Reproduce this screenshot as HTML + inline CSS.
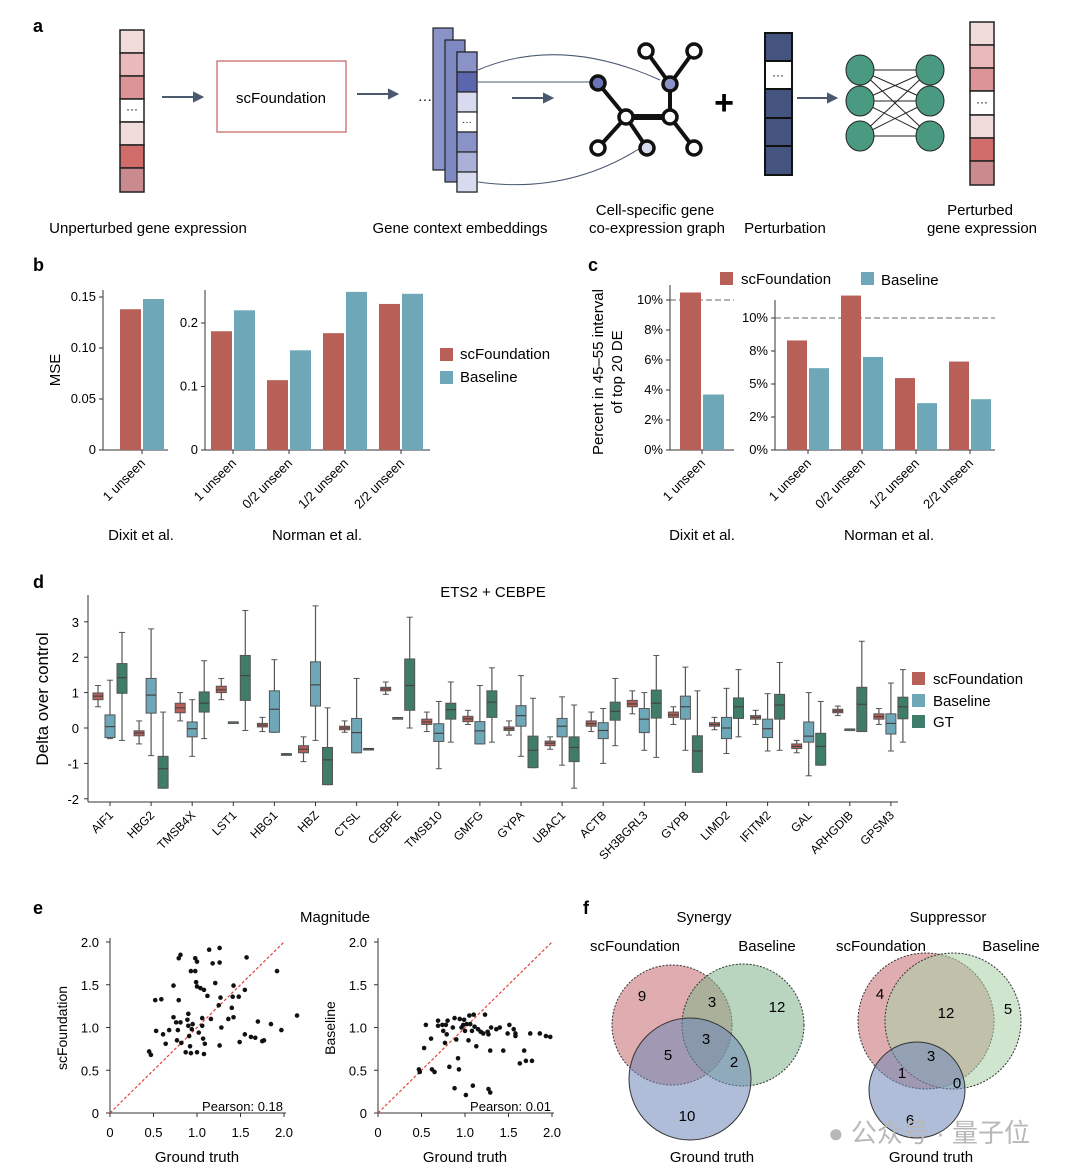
<!DOCTYPE html>
<html><head><meta charset="utf-8"><style>
body{margin:0;background:#fff}
svg{display:block;font-family:"Liberation Sans","Noto Sans CJK SC",sans-serif}
</style></head><body>
<svg id="fig" width="1070" height="1174" viewBox="0 0 1070 1174" xmlns="http://www.w3.org/2000/svg">
<g>
<text x="33" y="32" font-size="18" font-weight="bold">a</text>
<g stroke="#222" stroke-width="1.5">
<rect x="120" y="30" width="24" height="23" fill="#f1dcdc"/><rect x="120" y="53" width="24" height="23" fill="#e9b9bb"/><rect x="120" y="76" width="24" height="23" fill="#dd9497"/><rect x="120" y="99" width="24" height="23" fill="#fff"/><rect x="120" y="122" width="24" height="23" fill="#f1dcdc"/><rect x="120" y="145" width="24" height="23" fill="#d06d6b"/><rect x="120" y="168" width="24" height="24" fill="#c98b8e"/>
</g>
<text x="132" y="113" font-size="12" text-anchor="middle">···</text>
<g stroke="#4a5870" stroke-width="2" fill="#4a5870"><line x1="162" y1="97" x2="196" y2="97"/><polygon points="202,97 194,93 194,101"/><line x1="357" y1="94" x2="391" y2="94"/><polygon points="397,94 389,90 389,98"/><line x1="512" y1="98" x2="546" y2="98"/><polygon points="552,98 544,94 544,102"/><line x1="797" y1="98" x2="830" y2="98"/><polygon points="836,98 828,94 828,102"/></g>
<rect x="217" y="61" width="129" height="71" fill="none" stroke="#c96a6a" stroke-width="1.3"/>
<text x="281" y="103" font-size="15" text-anchor="middle">scFoundation</text>
<text x="418" y="104" font-size="14">···</text>
<g stroke="#222" stroke-width="1.2">
<rect x="433" y="28" width="20" height="142" fill="#8a93c8"/><rect x="445" y="40" width="20" height="142" fill="#7e89c2"/><rect x="457" y="52" width="20" height="140" fill="#c5c9e6"/>
<rect x="457" y="52" width="20" height="20" fill="#8a93c8"/><rect x="457" y="72" width="20" height="20" fill="#5b66ac"/><rect x="457" y="92" width="20" height="20" fill="#d8dbef"/><rect x="457" y="112" width="20" height="20" fill="#fff"/><rect x="457" y="132" width="20" height="20" fill="#8a93c8"/><rect x="457" y="152" width="20" height="20" fill="#aab0d8"/><rect x="457" y="172" width="20" height="20" fill="#d8dbef"/>
</g>
<text x="467" y="125" font-size="10" text-anchor="middle">···</text>
<path d="M478,70 Q560,35 660,80" fill="none" stroke="#4a5870"/><path d="M478,82 L592,82" fill="none" stroke="#4a5870"/><path d="M478,182 Q570,195 645,145" fill="none" stroke="#4a5870"/>
<g stroke="#111" stroke-width="4">
<line x1="598" y1="83" x2="626" y2="117"/><line x1="626" y1="117" x2="670" y2="117" stroke-width="6"/><line x1="626" y1="117" x2="598" y2="148"/><line x1="626" y1="117" x2="647" y2="148"/><line x1="670" y1="117" x2="670" y2="84"/><line x1="670" y1="84" x2="646" y2="51"/><line x1="670" y1="84" x2="694" y2="51"/><line x1="670" y1="117" x2="694" y2="148"/>
<g stroke-width="3.5"><circle cx="598" cy="83" r="7" fill="#6b74b8"/><circle cx="626" cy="117" r="7" fill="#fff"/><circle cx="670" cy="117" r="7" fill="#fff"/><circle cx="670" cy="84" r="7" fill="#8a93c8"/><circle cx="646" cy="51" r="7" fill="#fff"/><circle cx="694" cy="51" r="7" fill="#fff"/><circle cx="598" cy="148" r="7" fill="#fff"/><circle cx="647" cy="148" r="7" fill="#d8dbef"/><circle cx="694" cy="148" r="7" fill="#fff"/></g>
</g>
<text x="724" y="114" font-size="34" font-weight="bold" text-anchor="middle">+</text>
<g stroke="#111" stroke-width="2">
<rect x="765" y="33" width="27" height="142" fill="#45537f"/><rect x="765" y="61" width="27" height="28" fill="#fff"/>
<line x1="765" y1="118" x2="792" y2="118"/><line x1="765" y1="146" x2="792" y2="146"/></g>
<text x="778" y="79" font-size="12" text-anchor="middle">···</text>
<g stroke="#222" stroke-width="1">
<line x1="860" y1="70" x2="930" y2="70"/><line x1="860" y1="70" x2="930" y2="101"/><line x1="860" y1="70" x2="930" y2="136"/><line x1="860" y1="101" x2="930" y2="70"/><line x1="860" y1="101" x2="930" y2="101"/><line x1="860" y1="101" x2="930" y2="136"/><line x1="860" y1="136" x2="930" y2="70"/><line x1="860" y1="136" x2="930" y2="101"/><line x1="860" y1="136" x2="930" y2="136"/>
<g fill="#4a9a82"><ellipse cx="860" cy="70" rx="14" ry="15"/><ellipse cx="860" cy="101" rx="14" ry="15"/><ellipse cx="860" cy="136" rx="14" ry="15"/><ellipse cx="930" cy="70" rx="14" ry="15"/><ellipse cx="930" cy="101" rx="14" ry="15"/><ellipse cx="930" cy="136" rx="14" ry="15"/></g></g>
<g stroke="#222" stroke-width="1.5">
<rect x="970" y="22" width="24" height="23" fill="#f1dcdc"/><rect x="970" y="45" width="24" height="23" fill="#e9b9bb"/><rect x="970" y="68" width="24" height="23" fill="#dd9497"/><rect x="970" y="91" width="24" height="24" fill="#fff"/><rect x="970" y="115" width="24" height="23" fill="#f1dcdc"/><rect x="970" y="138" width="24" height="23" fill="#d06d6b"/><rect x="970" y="161" width="24" height="24" fill="#c98b8e"/></g>
<text x="982" y="106" font-size="12" text-anchor="middle">···</text>
<g font-size="15" text-anchor="middle">
<text x="148" y="233">Unperturbed gene expression</text><text x="460" y="233">Gene context embeddings</text>
<text x="655" y="215">Cell-specific gene</text><text x="657" y="233">co-expression graph</text>
<text x="785" y="233">Perturbation</text><text x="980" y="215">Perturbed</text><text x="982" y="233">gene expression</text></g>
</g>
<g id="pb"></g>
<g id="pc"></g>
<g id="pd"></g>
<g id="pe"></g>
<g>
<text x="583" y="914" font-size="18" font-weight="bold">f</text>
<g font-size="15" text-anchor="middle"><text x="704" y="922">Synergy</text><text x="948" y="922">Suppressor</text>
<text x="635" y="951">scFoundation</text><text x="767" y="951">Baseline</text><text x="881" y="951">scFoundation</text><text x="1011" y="951">Baseline</text>
<text x="712" y="1162">Ground truth</text><text x="931" y="1162">Ground truth</text></g>
<g stroke="#333" stroke-dasharray="2,1.5" stroke-width="1" fill-opacity="0.55">
<circle cx="672" cy="1025" r="60" fill="#c46a70"/>
<circle cx="743" cy="1025" r="61" fill="#7fb38b"/>
<circle cx="690" cy="1079" r="61" fill="#6d86b8" stroke-dasharray="none"/>
<circle cx="926" cy="1021" r="68" fill="#c46a70"/>
<circle cx="953" cy="1021" r="68" fill="#a7cfa6"/>
<circle cx="917" cy="1090" r="48" fill="#6d86b8" stroke-dasharray="none"/>
</g>
<g font-size="15" text-anchor="middle">
<text x="642" y="1001">9</text><text x="712" y="1007">3</text><text x="777" y="1012">12</text><text x="706" y="1044">3</text><text x="668" y="1060">5</text><text x="734" y="1067">2</text><text x="687" y="1121">10</text>
<text x="880" y="999">4</text><text x="946" y="1018">12</text><text x="1008" y="1014">5</text><text x="931" y="1061">3</text><text x="902" y="1078">1</text><text x="957" y="1088">0</text><text x="910" y="1125">6</text></g>
<text x="828" y="1142" font-size="26" fill="#b8b8b8">● 公众号 · 量子位</text>
</g>
</svg>
<script>
const NS="http://www.w3.org/2000/svg";
function mk(p,tag,a,txt){const e=document.createElementNS(NS,tag);for(const k in a)e.setAttribute(k,a[k]);if(txt!==undefined)e.textContent=txt;p.appendChild(e);return e;}
const C_S="#b85f57",C_B="#6ea8b8",C_G="#3f7c6a";

// Panel b data
const bDixitCats=["1 unseen"];
const bDixitScF=[0.138];
const bDixitBase=[0.148];
const bNormanCats=["1 unseen","0/2 unseen","1/2 unseen","2/2 unseen"];
const bNormanScF=[0.187,0.110,0.184,0.230];
const bNormanBase=[0.220,0.157,0.249,0.246];
const bDixitTicks=[0,0.05,0.10,0.15];
const bDixitTickLabels=["0","0.05","0.10","0.15"];
const bNormanTicks=[0,0.1,0.2];
const bNormanTickLabels=["0","0.1","0.2"];
// Panel c data
const cDixitScF=[10.5];
const cDixitBase=[3.7];
const cNormanScF=[8.3,11.7,5.45,6.7];
const cNormanBase=[6.2,7.05,3.55,3.85];
const cDixitTicks=[0,2,4,6,8,10];
const cNormanTicks=[0,2.5,5,7.5,10];
const cNormanTickLabels=["0%","2%","5%","8%","10%"];

function barPanel(g,o){
  const y=v=>o.y0-(v-o.vmin)*o.k;
  mk(g,"line",{x1:o.ax,y1:o.top,x2:o.ax,y2:o.y0,stroke:"#333"});
  mk(g,"line",{x1:o.ax,y1:o.y0,x2:o.ax+o.w,y2:o.y0,stroke:"#333"});
  o.ticks.forEach((t,i)=>{mk(g,"line",{x1:o.ax-4,x2:o.ax,y1:y(t),y2:y(t),stroke:"#333"});
    const tl=mk(g,"text",{x:o.ax-7,y:y(t)+4,"font-size":13,"text-anchor":"end"},o.labels[i]);
    
    });
  if(o.dash!==undefined)mk(g,"line",{x1:o.ax,x2:o.ax+o.w,y1:y(o.dash),y2:y(o.dash),stroke:"#666","stroke-dasharray":"6,3"});
  o.cats.forEach((c,i)=>{
    const cx=o.x0+i*o.step;
    const r1=mk(g,"rect",{x:cx-o.bw-1,y:y(o.s[i]),width:o.bw,height:o.y0-y(o.s[i]),fill:C_S});
    
    
    const r2=mk(g,"rect",{x:cx+1,y:y(o.b[i]),width:o.bw,height:o.y0-y(o.b[i]),fill:C_B});
    
    
    mk(g,"line",{x1:cx,x2:cx,y1:o.y0,y2:o.y0+4,stroke:"#333"});
    const t=mk(g,"text",{x:cx+4,y:o.y0+14,"font-size":13,"text-anchor":"end",transform:`rotate(-45 ${cx+4} ${o.y0+14})`},c);
    
    
  });
}
const pb=document.getElementById("pb");
mk(pb,"text",{x:33,y:271,"font-size":18,"font-weight":"bold"},"b");
barPanel(pb,{ax:103,top:290,y0:450,vmin:0,k:1020,w:65,ticks:bDixitTicks,labels:bDixitTickLabels,cats:bDixitCats,s:bDixitScF,b:bDixitBase,x0:142,step:56,bw:21});
barPanel(pb,{ax:205,top:290,y0:450,vmin:0,k:635,w:225,ticks:bNormanTicks,labels:bNormanTickLabels,cats:bNormanCats,s:bNormanScF,b:bNormanBase,x0:233,step:56,bw:21});
mk(pb,"text",{x:60,y:370,"font-size":15,"text-anchor":"middle",transform:"rotate(-90 60 370)"},"MSE");
mk(pb,"rect",{x:440,y:348,width:13,height:13,fill:C_S});mk(pb,"text",{x:460,y:359,"font-size":15},"scFoundation");
mk(pb,"rect",{x:440,y:371,width:13,height:13,fill:C_B});mk(pb,"text",{x:460,y:382,"font-size":15},"Baseline");
mk(pb,"text",{x:141,y:540,"font-size":15,"text-anchor":"middle"},"Dixit et al.");
mk(pb,"text",{x:317,y:540,"font-size":15,"text-anchor":"middle"},"Norman et al.");

const pc=document.getElementById("pc");
mk(pc,"text",{x:588,y:271,"font-size":18,"font-weight":"bold"},"c");
barPanel(pc,{ax:670,top:285,y0:450,vmin:0,k:15,w:64,ticks:cDixitTicks,labels:cDixitTicks.map(v=>v+"%"),cats:bDixitCats,s:cDixitScF,b:cDixitBase,x0:702,step:54,bw:21,dash:10});
barPanel(pc,{ax:775,top:300,y0:450,vmin:0,k:13.2,w:220,ticks:cNormanTicks,labels:cNormanTickLabels,cats:bNormanCats,s:cNormanScF,b:cNormanBase,x0:808,step:54,bw:20,dash:10});
mk(pc,"text",{x:603,y:372,"font-size":15,"text-anchor":"middle",transform:"rotate(-90 603 372)"},"Percent in 45–55 interval");
mk(pc,"text",{x:622,y:372,"font-size":15,"text-anchor":"middle",transform:"rotate(-90 622 372)"},"of top 20 DE");
mk(pc,"rect",{x:720,y:272,width:13,height:13,fill:C_S});mk(pc,"text",{x:741,y:284,"font-size":15},"scFoundation");
mk(pc,"rect",{x:861,y:272,width:13,height:13,fill:C_B});mk(pc,"text",{x:881,y:285,"font-size":15},"Baseline");
mk(pc,"text",{x:702,y:540,"font-size":15,"text-anchor":"middle"},"Dixit et al.");
mk(pc,"text",{x:889,y:540,"font-size":15,"text-anchor":"middle"},"Norman et al.");

// Panel d data: [q1, median, q3, whiskerLow, whiskerHigh]
const dGenes=["AIF1","HBG2","TMSB4X","LST1","HBG1","HBZ","CTSL","CEBPE","TMSB10","GMFG","GYPA","UBAC1","ACTB","SH3BGRL3","GYPB","LIMD2","IFITM2","GAL","ARHGDIB","GPSM3"];
const dScF=[[0.8,0.9,0.99,0.6,1.2],[-0.22,-0.14,-0.08,-0.45,0.2],[0.43,0.57,0.7,0.2,1.0],[1.0,1.08,1.18,0.8,1.4],[0.03,0.08,0.13,-0.1,0.3],[-0.7,-0.6,-0.5,-0.95,-0.25],[-0.05,0,0.05,-0.12,0.2],[1.05,1.1,1.15,0.95,1.3],[0.1,0.17,0.25,-0.1,0.45],[0.18,0.26,0.33,0.1,0.5],[-0.07,-0.02,0.03,-0.2,0.2],[-0.5,-0.43,-0.37,-0.6,-0.25],[0.05,0.12,0.2,-0.1,0.45],[0.6,0.68,0.78,0.4,1.05],[0.3,0.37,0.45,0.1,0.6],[0.05,0.1,0.15,-0.05,0.3],[0.25,0.3,0.35,0.1,0.5],[-0.58,-0.52,-0.45,-0.7,-0.35],[0.43,0.48,0.53,0.35,0.62],[0.25,0.32,0.4,0.1,0.55]];
const dBase=[[-0.27,0.04,0.37,-0.3,1.35],[0.42,0.93,1.4,-0.78,2.8],[-0.25,-0.02,0.17,-0.8,0.8],[0.17,0.17,0.17,0.17,0.17],[-0.12,0.53,1.05,-0.12,1.93],[0.62,1.22,1.87,-0.35,3.45],[-0.7,-0.13,0.27,-0.7,1.4],[0.29,0.29,0.29,0.29,0.29],[-0.38,-0.15,0.12,-1.15,0.75],[-0.45,-0.08,0.18,-0.45,1.2],[0.05,0.35,0.63,-0.8,1.48],[-0.25,0.05,0.27,-1.05,0.88],[-0.3,-0.07,0.15,-1.0,0.55],[-0.13,0.25,0.55,-0.63,1.0],[0.25,0.6,0.9,-0.63,1.72],[-0.3,0,0.3,-0.72,1.12],[-0.27,-0.02,0.25,-0.65,0.97],[-0.4,-0.23,0.17,-1.35,1.0],[-0.03,-0.03,-0.03,-0.03,-0.03],[-0.17,0.13,0.4,-0.65,1.27]];
const dGT=[[0.98,1.42,1.82,-0.35,2.7],[-1.7,-1.15,-0.8,-1.7,0.45],[0.45,0.7,1.02,-0.3,1.9],[0.78,1.48,2.05,-0.07,3.32],[-0.73,-0.73,-0.73,-0.73,-0.73],[-1.6,-0.9,-0.55,-1.6,0.57],[-0.58,-0.58,-0.58,-0.58,-0.58],[0.5,1.2,1.95,0,3.13],[0.25,0.52,0.7,-0.4,1.3],[0.3,0.73,1.05,-0.4,1.7],[-1.12,-0.63,-0.23,-1.12,0.84],[-0.95,-0.55,-0.25,-1.7,0.65],[0.22,0.47,0.73,-0.5,1.4],[0.28,0.7,1.07,-0.83,2.05],[-1.25,-0.65,-0.22,-1.25,1.05],[0.27,0.6,0.85,-0.25,1.65],[0.25,0.65,0.95,-0.63,1.85],[-1.05,-0.52,-0.15,-1.05,0.75],[-0.1,0.67,1.15,-0.1,2.45],[0.26,0.6,0.87,-0.4,1.65]];
const dTicks=[-2,-1,0,1,2,3];
const pd=document.getElementById("pd");
(function(){
  const ax=88,y=v=>728-v*35.4,xg=i=>110+i*41.1;
  mk(pd,"text",{x:33,y:588,"font-size":18,"font-weight":"bold"},"d");
  mk(pd,"text",{x:493,y:597,"font-size":15,"text-anchor":"middle"},"ETS2 + CEBPE");
  mk(pd,"line",{x1:ax,y1:595,x2:ax,y2:802,stroke:"#333"});
  mk(pd,"line",{x1:ax,y1:802,x2:898,y2:802,stroke:"#333"});
  dTicks.forEach(t=>{mk(pd,"line",{x1:ax-4,x2:ax,y1:y(t),y2:y(t),stroke:"#333"});mk(pd,"text",{x:ax-9,y:y(t)+5,"font-size":13,"text-anchor":"end"},String(t));});
  mk(pd,"text",{x:48,y:699,"font-size":17,"text-anchor":"middle",transform:"rotate(-90 48 699)"},"Delta over control");
  const series=[[dScF,C_S,-12],[dBase,C_B,0],[dGT,C_G,12]];
  dGenes.forEach((gname,i)=>{
    const cx=xg(i);
    mk(pd,"line",{x1:cx,x2:cx,y1:802,y2:806,stroke:"#333"});
    const t=mk(pd,"text",{x:cx+4,y:816,"font-size":12,"text-anchor":"end",transform:`rotate(-45 ${cx+4} 816)`},gname);
    
    
    series.forEach(([arr,col,off])=>{
      const d=arr[i],bx=cx+off;
      mk(pd,"line",{x1:bx,x2:bx,y1:y(d[4]),y2:y(d[3]),stroke:"#555","stroke-width":1.2});
      mk(pd,"line",{x1:bx-3,x2:bx+3,y1:y(d[4]),y2:y(d[4]),stroke:"#555"});
      mk(pd,"line",{x1:bx-3,x2:bx+3,y1:y(d[3]),y2:y(d[3]),stroke:"#555"});
      const r=mk(pd,"rect",{x:bx-5,y:y(d[2]),width:10,height:Math.max(1.5,y(d[0])-y(d[2])),fill:col,stroke:"#555","stroke-width":1});
      
      
      mk(pd,"line",{x1:bx-5,x2:bx+5,y1:y(d[1]),y2:y(d[1]),stroke:"#444","stroke-width":1.2});
    });
  });
  [["scFoundation",C_S,672],["Baseline",C_B,694],["GT",C_G,715]].forEach(([n,c,yy])=>{mk(pd,"rect",{x:912,y:yy,width:13,height:13,fill:c});mk(pd,"text",{x:933,y:yy+12,"font-size":15},n);});
})();

// Panel e data
const eScFx=[0.45,0.47,0.52,0.53,0.59,0.61,0.64,0.68,0.73,0.73,0.76,0.77,0.78,0.79,0.81,0.79,0.81,0.82,0.87,0.89,0.9,0.9,0.91,0.92,0.93,0.93,0.94,0.95,0.98,0.98,0.99,1.0,1.0,1.0,1.02,1.04,1.06,1.06,1.07,1.08,1.08,1.09,1.12,1.14,1.16,1.18,1.21,1.25,1.26,1.26,1.26,1.27,1.28,1.36,1.4,1.41,1.42,1.42,1.48,1.49,1.55,1.55,1.57,1.62,1.67,1.7,1.75,1.77,1.85,1.92,1.97,2.15];
const eScFy=[0.72,0.68,1.32,0.96,1.33,0.92,0.81,0.97,1.49,1.12,1.06,0.85,0.97,1.81,1.85,1.32,1.06,0.82,0.71,1.09,1.16,1.02,0.9,0.78,1.66,0.7,0.98,1.04,1.66,1.81,1.53,1.77,1.48,0.71,0.94,1.46,1.11,1.02,0.87,1.44,0.69,0.81,1.37,1.91,1.1,1.75,1.52,1.26,1.93,1.76,0.79,1.35,1.0,1.1,1.23,1.36,1.12,1.49,1.36,0.83,1.44,0.92,1.82,0.89,0.88,1.07,0.84,0.85,1.04,1.66,0.97,1.14];
const eBx=[0.47,0.48,0.53,0.55,0.61,0.62,0.65,0.69,0.69,0.74,0.75,0.77,0.78,0.8,0.79,0.82,0.86,0.88,0.88,0.9,0.92,0.93,0.94,0.96,0.98,0.99,1.0,1.01,1.02,1.04,1.05,1.06,1.08,1.09,1.1,1.11,1.13,1.15,1.18,1.21,1.23,1.26,1.27,1.27,1.29,1.29,1.3,1.36,1.4,1.44,1.49,1.51,1.56,1.58,1.58,1.68,1.63,1.7,1.77,1.75,1.86,1.93,1.98];
const eBy=[0.51,0.48,0.76,1.03,0.87,0.51,0.48,1.08,1.02,1.03,0.96,0.82,1.03,1.08,0.92,0.54,1.0,1.11,0.29,0.86,0.64,0.51,1.1,1.0,1.03,1.09,0.96,0.21,1.04,0.85,1.14,1.04,0.96,0.32,1.15,1.01,0.78,0.98,0.95,0.93,1.15,0.95,0.92,0.28,0.73,0.24,1.0,0.98,1.0,0.73,0.93,1.03,0.98,0.9,0.93,0.73,0.58,0.61,0.61,0.93,0.93,0.9,0.89];
const eTicks=[0,0.5,1.0,1.5,2.0];
const eTickLabels=["0","0.5","1.0","1.5","2.0"];
const ePearson=["0.18","0.01"];
const pe=document.getElementById("pe");
mk(pe,"text",{x:33,y:914,"font-size":18,"font-weight":"bold"},"e");
mk(pe,"text",{x:335,y:922,"font-size":15,"text-anchor":"middle"},"Magnitude");
function scatter(x0,xs,ys,ylab,pear){
  const X=v=>x0+v*87,Y=v=>1113-v*85.5;
  mk(pe,"line",{x1:x0,y1:938,x2:x0,y2:1113,stroke:"#333"});
  mk(pe,"line",{x1:x0,y1:1113,x2:x0+176,y2:1113,stroke:"#333"});
  eTicks.forEach((t,i)=>{
    mk(pe,"line",{x1:x0-4,x2:x0,y1:Y(t),y2:Y(t),stroke:"#333"});
    mk(pe,"text",{x:x0-11,y:Y(t)+5,"font-size":13,"text-anchor":"end"},eTickLabels[i]);
    mk(pe,"line",{x1:X(t),x2:X(t),y1:1113,y2:1117,stroke:"#333"});
    mk(pe,"text",{x:X(t),y:1137,"font-size":13,"text-anchor":"middle"},eTickLabels[i]);
  });
  mk(pe,"line",{x1:X(0),y1:Y(0),x2:X(2),y2:Y(2),stroke:"#e0443a","stroke-dasharray":"3,2","stroke-width":1.2});
  xs.forEach((v,i)=>{const c=mk(pe,"circle",{cx:X(v),cy:Y(ys[i]),r:2.3,fill:"#111"});
    
    });
  mk(pe,"text",{x:x0+173,y:1111,"font-size":13,"text-anchor":"end"},"Pearson: "+pear);
  mk(pe,"text",{x:x0-43,y:1028,"font-size":14,"text-anchor":"middle",transform:`rotate(-90 ${x0-43} 1028)`},ylab);
  mk(pe,"text",{x:x0+87,y:1162,"font-size":15,"text-anchor":"middle"},"Ground truth");
}
scatter(110,eScFx,eScFy,"scFoundation",ePearson[0]);
scatter(378,eBx,eBy,"Baseline",ePearson[1]);
</script>
</body></html>
